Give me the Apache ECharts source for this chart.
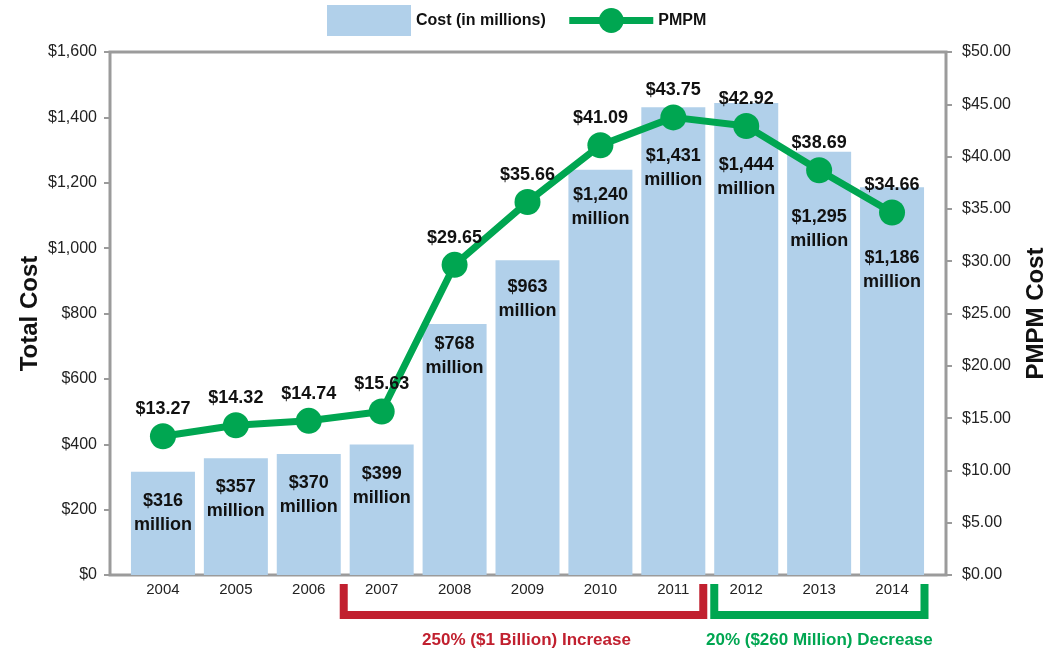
<!DOCTYPE html>
<html>
<head>
<meta charset="utf-8">
<script src="https://cdn.jsdelivr.net/npm/echarts@6/dist/echarts.min.js"></script>
<style>
  html, body { margin: 0; padding: 0; background: #fff; }
  #main { width: 1061px; height: 656px; }
</style>
</head>
<body>
<div id="main"></div>
<script>
var years = ['2004', '2005', '2006', '2007', '2008', '2009', '2010', '2011', '2012', '2013', '2014'];
var costMillions = [316, 357, 370, 399, 768, 963, 1240, 1431, 1444, 1295, 1186];
var pmpm = [13.27, 14.32, 14.74, 15.63, 29.65, 35.66, 41.09, 43.75, 42.92, 38.69, 34.66];
var costTicks = [0, 1600, 200];
var pmpmTicks = [0, 50, 5];

var blue = '#b1d0ea';
var green = '#00a651';
var red = '#c1202f';
var grey = '#9b9b9b';
var font = '"Liberation Sans", Arial, sans-serif';

// how far each bar label sits below the bar top (pushed down where the line crosses)
var labelGap = [17, 17, 17, 17, 8, 15, 13, 37, 50, 53, 59];

var myChart = echarts.init(document.getElementById('main'));

function money(v) {
	return '$' + v.toLocaleString('en-US');
}

var option = {
	animation: false,
	legend: {
		left: 322,
		top: 0,
		itemWidth: 84,
		itemHeight: 31,
		itemGap: 20,
		textStyle: { fontFamily: font, fontWeight: 'bold', fontSize: 16, color: '#111' },
		data: [
			{ name: 'Cost (in millions)', icon: 'rect' },
			{ name: 'PMPM', lineStyle: { width: 7 } }
		]
	},
	grid: [
		// outer frame
		{ left: 110, right: 115, top: 52, bottom: 81, show: true, borderColor: grey, borderWidth: 3 },
		// data area
		{ left: 126.5, right: 132.5, top: 52, bottom: 81 }
	],
	xAxis: [
		{ gridIndex: 0, type: 'value', show: false },
		{
			gridIndex: 1,
			type: 'category',
			data: years,
			axisLine: { show: false },
			axisTick: { show: false },
			axisLabel: { margin: 7, fontFamily: font, fontSize: 15, color: '#222' }
		}
	],
	yAxis: [
		{ gridIndex: 0, type: 'value', show: false },
		{
			gridIndex: 1,
			type: 'value',
			position: 'left',
			offset: 16.5,
			min: costTicks[0],
			max: costTicks[1],
			interval: costTicks[2],
			name: 'Total Cost',
			nameLocation: 'middle',
			nameRotate: 90,
			nameGap: 68,
			nameMoveOverlap: false,
			nameTextStyle: { fontFamily: font, fontWeight: 'bold', fontSize: 24, color: '#111' },
			axisLine: { show: false },
			axisTick: { show: true, length: 6, lineStyle: { color: grey, width: 2 } },
			splitLine: { show: false },
			axisLabel: { margin: 13, fontFamily: font, fontSize: 16, color: '#222', formatter: money }
		},
		{
			gridIndex: 1,
			type: 'value',
			position: 'right',
			offset: 17.5,
			min: pmpmTicks[0],
			max: pmpmTicks[1],
			interval: pmpmTicks[2],
			name: 'PMPM Cost',
			nameLocation: 'middle',
			nameRotate: 90,
			nameGap: 78,
			nameTextStyle: { fontFamily: font, fontWeight: 'bold', fontSize: 24, color: '#111' },
			axisLine: { show: false },
			axisTick: { show: true, length: 6, lineStyle: { color: grey, width: 2 } },
			splitLine: { show: false },
			axisLabel: { margin: 16, fontFamily: font, fontSize: 16, color: '#222', formatter: function (v) { return '$' + v.toFixed(2); } }
		}
	],
	series: [
		{
			name: 'Cost (in millions)',
			type: 'bar',
			xAxisIndex: 1,
			yAxisIndex: 1,
			barWidth: 64,
			itemStyle: { color: blue },
			label: {
				show: true,
				position: 'insideTop',
				fontFamily: font,
				fontWeight: 'bold',
				fontSize: 18,
				lineHeight: 24,
				color: '#111',
				formatter: function (p) { return money(p.value) + '\nmillion'; }
			},
			z: 2,
			data: costMillions.map(function (v, i) {
				return { value: v, label: { distance: labelGap[i] } };
			})
		},
		{
			name: 'PMPM',
			type: 'line',
			xAxisIndex: 1,
			yAxisIndex: 2,
			symbol: 'circle',
			symbolSize: 26,
			lineStyle: { color: green, width: 7 },
			itemStyle: { color: green },
			label: {
				show: true,
				position: 'top',
				distance: 5,
				fontFamily: font,
				fontWeight: 'bold',
				fontSize: 18,
				color: '#111',
				formatter: function (p) { return '$' + p.value.toFixed(2); }
			},
			z: 3,
			data: pmpm
		}
	]
};

myChart.setOption(option);

// brackets under the axis, placed from the category positions
function xAt(i) {
	return myChart.convertToPixel({ xAxisIndex: 1 }, i);
}
var band = xAt(1) - xAt(0);
var m23 = (xAt(2) + xAt(3)) / 2;
var m78 = (xAt(7) + xAt(8)) / 2;
var redL = m23 - 1.5, redR = m78 - 6.5;
var greenL = m78 + 4.5, greenR = xAt(10) + band / 2 - 4;
var topY = 584, lowY = 615;

function bracket(x1, x2, color) {
	return {
		type: 'polyline',
		shape: { points: [[x1, topY], [x1, lowY], [x2, lowY], [x2, topY]] },
		style: { stroke: color, lineWidth: 8, fill: null, lineJoin: 'miter', lineCap: 'butt' },
		z: 10
	};
}
function note(x, text, color) {
	return {
		type: 'text',
		x: x,
		y: 640,
		style: { text: text, fill: color, font: 'bold 17px ' + font, align: 'center', verticalAlign: 'middle' },
		z: 10
	};
}

myChart.setOption({
	graphic: [
		bracket(redL, redR, red),
		bracket(greenL, greenR, green),
		note((redL + redR) / 2 + 3, '250% ($1 Billion) Increase', red),
		note((greenL + greenR) / 2, '20% ($260 Million) Decrease', green)
	]
});
</script>
</body>
</html>
